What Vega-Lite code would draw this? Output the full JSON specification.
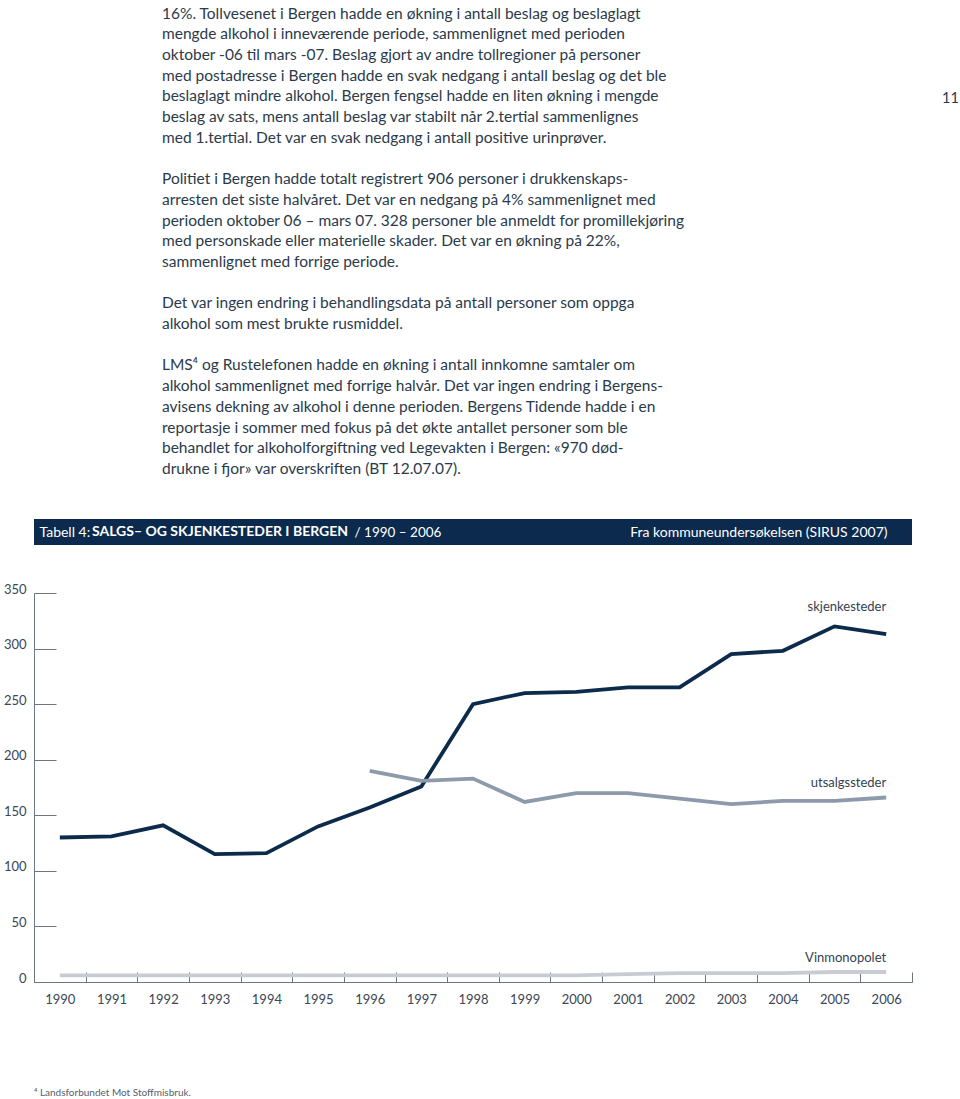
{
  "$schema": "https://vega.github.io/schema/vega-lite/v6.json",
  "background": "white",
  "padding": {"left": 3, "top": 6, "right": 3, "bottom": 0},
  "title": {
    "text": [
      "16%. Tollvesenet i Bergen hadde en økning i antall beslag og beslaglagt",
      "mengde alkohol i inneværende periode, sammenlignet med perioden",
      "oktober -06 til mars -07. Beslag gjort av andre tollregioner på personer",
      "med postadresse i Bergen hadde en svak nedgang i antall beslag og det ble",
      "beslaglagt mindre alkohol. Bergen fengsel hadde en liten økning i mengde",
      "beslag av sats, mens antall beslag var stabilt når 2.tertial sammenlignes",
      "med 1.tertial. Det var en svak nedgang i antall positive urinprøver.",
      "\u200b",
      "Politiet i Bergen hadde totalt registrert 906 personer i drukkenskaps-",
      "arresten det siste halvåret. Det var en nedgang på 4% sammenlignet med",
      "perioden oktober 06 – mars 07. 328 personer ble anmeldt for promillekjøring",
      "med personskade eller materielle skader. Det var en økning på 22%,",
      "sammenlignet med forrige periode.",
      "\u200b",
      "Det var ingen endring i behandlingsdata på antall personer som oppga",
      "alkohol som mest brukte rusmiddel.",
      "\u200b",
      "LMS⁴ og Rustelefonen hadde en økning i antall innkomne samtaler om",
      "alkohol sammenlignet med forrige halvår. Det var ingen endring i Bergens-",
      "avisens dekning av alkohol i denne perioden. Bergens Tidende hadde i en",
      "reportasje i sommer med fokus på det økte antallet personer som ble",
      "behandlet for alkoholforgiftning ved Legevakten i Bergen: «970 død-",
      "drukne i fjor» var overskriften (BT 12.07.07)."
    ],
    "anchor": "start",
    "frame": "group",
    "dx": 128,
    "offset": -387.5,
    "baseline": "top",
    "font": "Lato",
    "fontSize": 15.5,
    "fontWeight": "normal",
    "color": "#2b3a4a",
    "lineHeight": 20.7
  },
  "spacing": 48,
  "bounds": "flush",
  "vconcat": [
    {
      "width": 878,
      "height": 26,
      "view": {"fill": "#0b2a4e", "stroke": null},
      "title": {
        "text": "SALGS– OG SKJENKESTEDER I BERGEN",
        "anchor": "start",
        "frame": "group",
        "dx": 58,
        "offset": -27,
        "baseline": "middle",
        "font": "Lato",
        "fontSize": 14,
        "fontWeight": "bold",
        "color": "white"
      },
      "data": {"values": [{"tabell": "Tabell 4"}]},
      "mark": {"type": "point", "opacity": 0},
      "encoding": {
        "x": {
          "datum": 0,
          "type": "quantitative",
          "scale": {"domain": [0, 1]},
          "axis": {
            "domain": false, "ticks": false, "labels": false, "grid": false,
            "title": "Tabell 4:",
            "titleX": 5, "titleY": -13,
            "titleAlign": "left", "titleBaseline": "middle",
            "titleFont": "Lato", "titleFontSize": 14, "titleFontWeight": "normal",
            "titleColor": "white"
          }
        },
        "y": {
          "datum": 0,
          "type": "quantitative",
          "scale": {"domain": [0, 1]},
          "axis": {
            "domain": false, "ticks": false, "labels": false, "grid": false,
            "title": "/ 1990 – 2006",
            "titleX": 320, "titleY": 13, "titleAngle": 0,
            "titleAlign": "left", "titleBaseline": "middle",
            "titleFont": "Lato", "titleFontSize": 13.5, "titleFontWeight": "normal",
            "titleColor": "white"
          }
        }
      }
    },
    {
      "width": 878,
      "height": 389,
      "title": {
        "text": "⁴ Landsforbundet Mot Stoffmisbruk.",
        "orient": "bottom",
        "anchor": "start",
        "frame": "group",
        "offset": 87,
        "baseline": "middle",
        "font": "Lato",
        "fontSize": 10,
        "fontWeight": "normal",
        "color": "#55606c"
      },
      "data": {
        "values": [
          {"year": 1990, "series": "skjenkesteder", "value": 130},
          {"year": 1991, "series": "skjenkesteder", "value": 131},
          {"year": 1992, "series": "skjenkesteder", "value": 141},
          {"year": 1993, "series": "skjenkesteder", "value": 115},
          {"year": 1994, "series": "skjenkesteder", "value": 116},
          {"year": 1995, "series": "skjenkesteder", "value": 140},
          {"year": 1996, "series": "skjenkesteder", "value": 157},
          {"year": 1997, "series": "skjenkesteder", "value": 176},
          {"year": 1998, "series": "skjenkesteder", "value": 250},
          {"year": 1999, "series": "skjenkesteder", "value": 260},
          {"year": 2000, "series": "skjenkesteder", "value": 261},
          {"year": 2001, "series": "skjenkesteder", "value": 265},
          {"year": 2002, "series": "skjenkesteder", "value": 265},
          {"year": 2003, "series": "skjenkesteder", "value": 295},
          {"year": 2004, "series": "skjenkesteder", "value": 298},
          {"year": 2005, "series": "skjenkesteder", "value": 320},
          {"year": 2006, "series": "skjenkesteder", "value": 313},
          {"year": 1996, "series": "utsalgssteder", "value": 190},
          {"year": 1997, "series": "utsalgssteder", "value": 181},
          {"year": 1998, "series": "utsalgssteder", "value": 183},
          {"year": 1999, "series": "utsalgssteder", "value": 162},
          {"year": 2000, "series": "utsalgssteder", "value": 170},
          {"year": 2001, "series": "utsalgssteder", "value": 170},
          {"year": 2002, "series": "utsalgssteder", "value": 165},
          {"year": 2003, "series": "utsalgssteder", "value": 160},
          {"year": 2004, "series": "utsalgssteder", "value": 163},
          {"year": 2005, "series": "utsalgssteder", "value": 163},
          {"year": 2006, "series": "utsalgssteder", "value": 166},
          {"year": 1990, "series": "Vinmonopolet", "value": 6},
          {"year": 1991, "series": "Vinmonopolet", "value": 6},
          {"year": 1992, "series": "Vinmonopolet", "value": 6},
          {"year": 1993, "series": "Vinmonopolet", "value": 6},
          {"year": 1994, "series": "Vinmonopolet", "value": 6},
          {"year": 1995, "series": "Vinmonopolet", "value": 6},
          {"year": 1996, "series": "Vinmonopolet", "value": 6},
          {"year": 1997, "series": "Vinmonopolet", "value": 6},
          {"year": 1998, "series": "Vinmonopolet", "value": 6},
          {"year": 1999, "series": "Vinmonopolet", "value": 6},
          {"year": 2000, "series": "Vinmonopolet", "value": 6},
          {"year": 2001, "series": "Vinmonopolet", "value": 7},
          {"year": 2002, "series": "Vinmonopolet", "value": 8},
          {"year": 2003, "series": "Vinmonopolet", "value": 8},
          {"year": 2004, "series": "Vinmonopolet", "value": 8},
          {"year": 2005, "series": "Vinmonopolet", "value": 9},
          {"year": 2006, "series": "Vinmonopolet", "value": 9}
        ]
      },
      "encoding": {
        "x": {
          "field": "year",
          "type": "ordinal",
          "scale": {"type": "band", "paddingInner": 0, "paddingOuter": 0},
          "axis": {
            "tickBand": "extent",
            "tickSize": -10,
            "labelAngle": 0,
            "labelPadding": 21,
            "labelFont": "Lato",
            "labelFontSize": 13,
            "labelColor": "#3a4654",
            "domainColor": "#6d7580",
            "tickColor": "#6d7580",
            "grid": false,
            "title": "Fra kommuneundersøkelsen (SIRUS 2007)",
            "titleX": 853, "titleY": -450,
            "titleAlign": "right", "titleBaseline": "middle",
            "titleFont": "Lato", "titleFontSize": 14, "titleFontWeight": "normal",
            "titleColor": "white"
          }
        },
        "y": {
          "field": "value",
          "type": "quantitative",
          "scale": {"domain": [0, 350], "nice": false},
          "axis": {
            "values": [0, 50, 100, 150, 200, 250, 300, 350],
            "tickSize": -22,
            "grid": false,
            "labelPadding": 30,
            "labelOffset": -4,
            "labelFont": "Lato",
            "labelFontSize": 13,
            "labelColor": "#3a4654",
            "domainColor": "#6d7580",
            "tickColor": "#6d7580",
            "title": "11",
            "titleX": 916, "titleY": -495, "titleAngle": 0,
            "titleAlign": "center", "titleBaseline": "middle",
            "titleFont": "Lato", "titleFontSize": 14.5, "titleFontWeight": "normal",
            "titleColor": "#2b3a4a"
          }
        }
      },
      "layer": [
        {
          "mark": {"type": "line", "strokeWidth": 3.8},
          "encoding": {
            "color": {
              "field": "series",
              "type": "nominal",
              "scale": {
                "domain": ["skjenkesteder", "utsalgssteder", "Vinmonopolet"],
                "range": ["#0c2b4b", "#8c9aab", "#c8ccd2"]
              },
              "legend": null
            }
          }
        },
        {
          "transform": [{"filter": "datum.year == 2006 && datum.series == 'skjenkesteder'"}],
          "mark": {"type": "text", "align": "right", "baseline": "middle", "dy": -27, "font": "Lato", "fontSize": 13, "color": "#34414f"},
          "encoding": {"text": {"field": "series"}}
        },
        {
          "transform": [{"filter": "datum.year == 2006 && datum.series == 'utsalgssteder'"}],
          "mark": {"type": "text", "align": "right", "baseline": "middle", "dy": -15, "font": "Lato", "fontSize": 13, "color": "#34414f"},
          "encoding": {"text": {"field": "series"}}
        },
        {
          "transform": [{"filter": "datum.year == 2006 && datum.series == 'Vinmonopolet'"}],
          "mark": {"type": "text", "align": "right", "baseline": "middle", "dy": -14, "font": "Lato", "fontSize": 13, "color": "#34414f"},
          "encoding": {"text": {"field": "series"}}
        }
      ]
    }
  ],
  "config": {
    "view": {"stroke": null}
  }
}
